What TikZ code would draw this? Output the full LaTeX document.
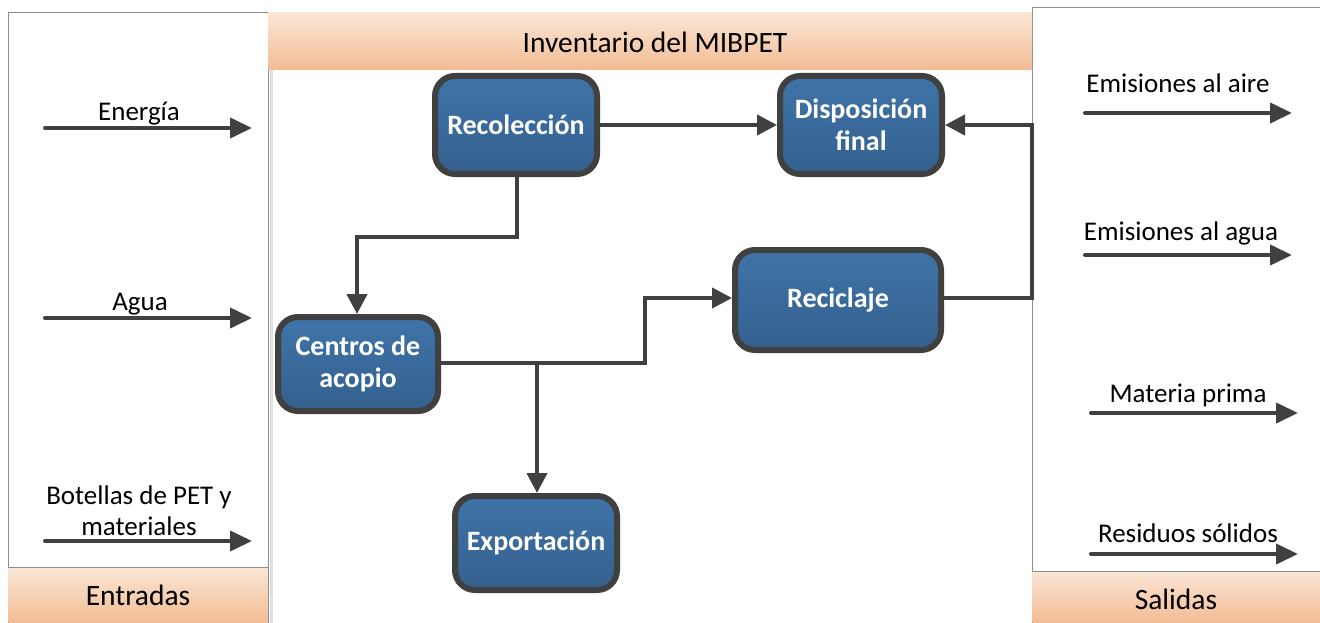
\documentclass[tikz,border=0pt]{standalone}
\usepackage{fontspec}
\setmainfont{Carlito}
\usetikzlibrary{arrows.meta,positioning}
\definecolor{boxtop}{HTML}{3F74A8}
\definecolor{boxbot}{HTML}{34608E}
\definecolor{edge}{HTML}{404040}
\definecolor{bandtop}{HTML}{FBE6D6}
\definecolor{bandbot}{HTML}{F2BC93}
\tikzset{
  procbox/.style={draw=edge, line width=6pt, rounded corners=20pt, top color=boxtop, bottom color=boxbot,
    text=white, font=\fontsize{28}{32}\selectfont\bfseries, align=center, inner sep=0pt},
  conn/.style={draw=edge, line width=4pt, -{Triangle[length=20pt,width=20pt]}},
  ioarrow/.style={draw=edge, line width=4pt, line cap=round, -{Triangle[length=22pt,width=20pt]}},
  iolabel/.style={font=\fontsize{27}{31}\selectfont, align=center, inner sep=0pt},
  bandlabel/.style={font=\fontsize{29.5}{34}\selectfont, align=center, inner sep=0pt},
  band/.style={top color=bandtop, bottom color=bandbot, draw=none},
  panel/.style={draw=gray!90, line width=1pt, fill=white}
}
\begin{document}
\begin{tikzpicture}[x=1pt,y=-1pt]
\useasboundingbox (0,0) rectangle (1320,623);
\fill[white] (0,0) rectangle (1320,623);
% panels
\draw[panel] (8,13) rectangle (268,630);
\draw[panel] (1032,8) rectangle (1325,630);
\draw[gray!25, line width=3pt] (271,70) -- (271,623);
% bands
\shade[band] (268,13) rectangle (1032,70);
\node[bandlabel] (inv) at (655,42) {Inventario del MIBPET};
\shade[band] (8.5,567) rectangle (267.5,623);
\draw[gray!90, line width=1pt] (8,567) -- (268,567);
\node[bandlabel] (ent) at (138,595) {Entradas};
\shade[band] (1032.5,571) rectangle (1320,623);
\draw[gray!90, line width=1pt] (1032,571) -- (1320,571);
\node[bandlabel] (sal) at (1176,599) {Salidas};
% process boxes
\node[procbox, minimum width=162pt, minimum height=98pt] (rec) at (516,125) {Recolección};
\node[procbox, minimum width=162pt, minimum height=98pt] (dis) at (861,125) {Disposición\\final};
\node[procbox, minimum width=206pt, minimum height=100pt] (recic) at (838,300) {Reciclaje};
\node[procbox, minimum width=160pt, minimum height=94pt] (cen) at (358,364) {Centros de\\acopio};
\node[procbox, minimum width=162pt, minimum height=94pt] (exp) at (536,543) {Exportación};
% connectors
\coordinate (r1) at (517,237);
\coordinate (r2) at (357,237);
\coordinate (c1) at (645,363);
\coordinate (c2) at (645,298);
\coordinate (br) at (537,363);
\coordinate (k1) at (1032,298);
\coordinate (k2) at (1032,125);
\draw[conn] (rec.east) -- (dis.west);
\draw[conn] (rec.south -| r1) -- (r1) -- (r2) -- (cen.north -| r2);
\draw[conn] (cen.east |- c1) -- (c1) -- (c2) -- (recic.west |- c2);
\draw[conn] (br) -- (exp.north -| br);
\draw[conn] (recic.east |- k1) -- (k1) -- (k2) -- (dis.east |- k2);
% inputs
\coordinate (e1s) at (45,128); \coordinate (e1e) at (252,128);
\coordinate (e2s) at (45,318); \coordinate (e2e) at (252,318);
\coordinate (e3s) at (45,541); \coordinate (e3e) at (252,541);
\draw[ioarrow] (e1s) -- (e1e);
\draw[ioarrow] (e2s) -- (e2e);
\draw[ioarrow] (e3s) -- (e3e);
\node[iolabel] (l1) at (139,114) {Energía};
\node[iolabel] (l2) at (140,304) {Agua};
\node[iolabel] (l3) at (139,511) {Botellas de PET y\\materiales};
% outputs
\coordinate (o1s) at (1085,113); \coordinate (o1e) at (1292,113);
\coordinate (o2s) at (1085,255); \coordinate (o2e) at (1292,255);
\coordinate (o3s) at (1091,413); \coordinate (o3e) at (1298,413);
\coordinate (o4s) at (1091,554); \coordinate (o4e) at (1298,554);
\draw[ioarrow] (o1s) -- (o1e);
\draw[ioarrow] (o2s) -- (o2e);
\draw[ioarrow] (o3s) -- (o3e);
\draw[ioarrow] (o4s) -- (o4e);
\node[iolabel] (m1) at (1178,83) {Emisiones al aire};
\node[iolabel] (m2) at (1181,233) {Emisiones al agua};
\node[iolabel] (m3) at (1188,395) {Materia prima};
\node[iolabel] (m4) at (1188,533) {Residuos sólidos};
\end{tikzpicture}
\end{document}
